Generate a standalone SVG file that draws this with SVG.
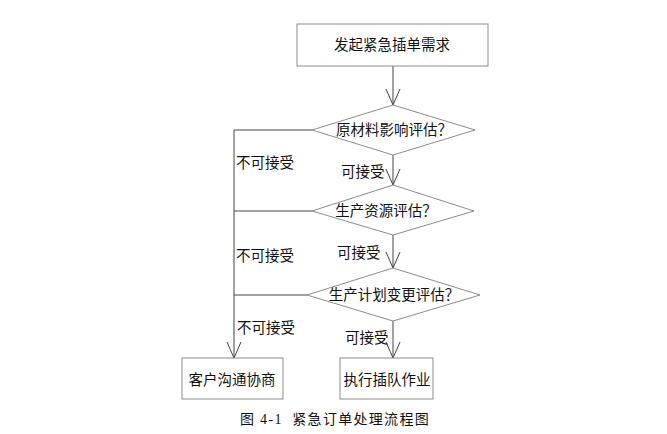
<svg xmlns="http://www.w3.org/2000/svg" width="667" height="434" viewBox="0 0 667 434">
<style>
.shape{fill:#fff;stroke:#8c8c8c;stroke-width:1}
.t{font-family:"Liberation Serif","Noto Sans CJK SC",serif;font-size:14.5px;fill:#111;text-anchor:middle;dominant-baseline:central}
.lbl{font-family:"Liberation Serif","Noto Sans CJK SC",serif;font-size:14.5px;fill:#111}
.c{fill:none;stroke:#444;stroke-width:1}
</style>
<defs>
<marker id="v" markerUnits="userSpaceOnUse" markerWidth="18" markerHeight="18" refX="16" refY="8" orient="auto">
<path d="M0,1 L16,8 L0,15" fill="none" stroke="#444" stroke-width="1"/>
</marker>
</defs>
<rect width="667" height="434" fill="#fff"/>
<g id="connectors">
<line class="c" x1="393" y1="66" x2="393" y2="105" marker-end="url(#v)"/>
<line class="c" x1="393" y1="155" x2="393" y2="185" marker-end="url(#v)"/>
<line class="c" x1="393" y1="235" x2="393" y2="268" marker-end="url(#v)"/>
<line class="c" x1="393" y1="321" x2="393" y2="358" marker-end="url(#v)"/>
<polyline class="c" points="312,130 234,130 234,358" marker-end="url(#v)"/>
<line class="c" x1="312" y1="211" x2="234" y2="211"/>
<line class="c" x1="307" y1="295" x2="234" y2="295"/>
</g>
<g id="n1"><rect class="shape" x="297" y="24" width="191" height="42"/><text class="t" x="392" y="45">发起紧急插单需求</text></g>
<g id="d1"><polygon class="shape" points="393,105 475,130 393,155 312,130"/><text class="t" x="394" y="130">原材料影响评估？</text></g>
<g id="d2"><polygon class="shape" points="393,185 474,211 393,235 312,211"/><text class="t" x="386" y="211">生产资源评估？</text></g>
<g id="d3"><polygon class="shape" points="393,268 480,295 393,321 307,295"/><text class="t" x="394" y="295">生产计划变更评估？</text></g>
<g id="n2"><rect class="shape" x="182" y="358" width="101" height="41"/><text class="t" x="232" y="380">客户沟通协商</text></g>
<g id="n3"><rect class="shape" x="340" y="358" width="93" height="41"/><text class="t" x="387" y="380">执行插队作业</text></g>
<g id="labels">
<text class="lbl" x="236" y="168">不可接受</text>
<text class="lbl" x="341" y="177">可接受</text>
<text class="lbl" x="236" y="261">不可接受</text>
<text class="lbl" x="337" y="258">可接受</text>
<text class="lbl" x="237" y="333">不可接受</text>
<text class="lbl" x="345" y="343">可接受</text>
</g>
<text class="t" x="335" y="419" xml:space="preserve" style="font-size:14px;letter-spacing:1.3px">图 4-1  紧急订单处理流程图</text>
</svg>
